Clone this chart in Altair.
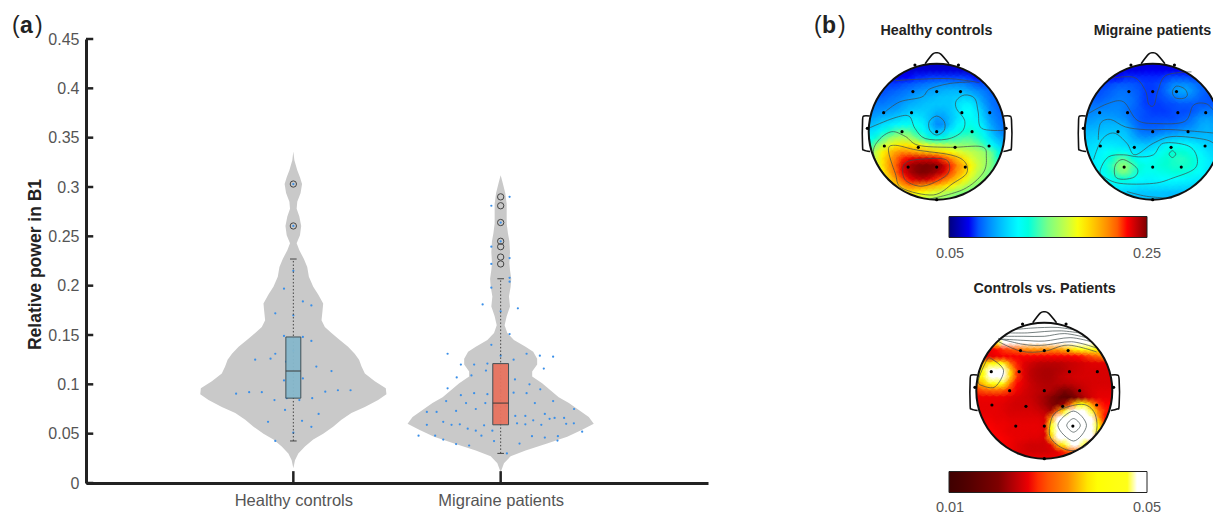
import altair as alt
import pandas as pd

FONT = "Liberation Sans"
DARK = "#222222"
TXT = "#555555"

# ---- violin outlines: value, half width (x units)
HC_Y = [.336,.327,.317,.310,.303,.294,.285,.278,.270,.2605,.251,.243,.236,.227,.219,.209,.199,.191,.182,.175,.165,.158,.152,.145,.138,.131,.125,.118,.111,.103,.096,.090,.084,.077,.071,.064,.057,.050,.044,.037,.030,.023,.015]
HC_W = [0,.005,.019,.032,.042,.035,.019,.016,.029,.038,.032,.016,.029,.051,.067,.075,.096,.120,.144,.141,.136,.152,.184,.224,.264,.296,.317,.329,.345,.393,.446,.449,.409,.345,.280,.232,.192,.144,.096,.056,.024,.008,0]
MP_Y = [.312,.304,.294,.283,.273,.263,.253,.245,.234,.223,.216,.207,.199,.189,.179,.169,.160,.152,.145,.138,.133,.126,.120,.113,.108,.101,.094,.087,.081,.074,.067,.060,.054,.047,.040,.033,.027,.020,.011]
MP_W = [0,.010,.022,.029,.029,.029,.035,.042,.045,.042,.045,.051,.048,.040,.045,.029,.019,.032,.064,.120,.157,.176,.176,.152,.152,.200,.240,.280,.329,.377,.425,.449,.393,.321,.224,.120,.048,.016,0]

# ---- scatter points: offset from the group's centre, value
HC_PX = [0,0,0,-.045,.046,.087,-.087,0,-.045,.046,.087,0,-.087,-.184,-.110,-.035,.111,.184,-.045,.046,-.276,-.213,-.152,.276,.215,.154,.091,.029,-.091,-.032,-.040,.122,-.122,.042,.087,0,-.087]
HC_PY = [.303,.2605,.215,.197,.184,.180,.172,.170,.149,.148,.144,.134,.131,.125,.126,.123,.118,.1135,.104,.106,.0905,.092,.092,.094,.094,.0925,.086,.084,.084,.086,.074,.070,.062,.063,.057,.051,.0426]
MP_PX = [.043,-.045,0,0,-.045,.043,-.045,.043,.043,-.045,-.087,.083,0,.043,-.045,-.256,0,.125,.189,.253,.0625,-.064,-.128,-.192,.208,-.071,-.141,-.212,0,.069,.139,-.256,.191,0,-.128,-.064,.0625,.125,-.192,.253,-.167,-.263,-.074,.165,-.024,.024,.354,-.120,-.215,-.309,-.356,.213,.0705,.119,.26,.236,.306,0,.157,-.277,-.356,-.237,-.197,-.08,0,.079,.119,.196,.316,.353,-.159,-.120,-.04,.393,-.396,-.316,-.093,.151,.213,.276,-.277,-.032,.274,.091,-.215,-.152,.03]
MP_PY = [.290,.281,.264,.245,.2395,.228,.222,.208,.204,.198,.181,.177,.174,.151,.140,.131,.129,.131,.129,.128,.125,.121,.120,.120,.116,.114,.109,.107,.106,.105,.100,.096,.095,.093,.091,.090,.0915,.091,.089,.083,.081,.083,.081,.081,.078,.078,.075,.075,.073,.072,.072,.070,.068,.068,.066,.065,.066,.063,.0635,.062,.059,.059,.0595,.0585,.0605,.0605,.0595,.059,.060,.0605,.055,.053,.053,.052,.048,.048,.048,.0475,.046,.0475,.044,.0425,.043,.040,.0395,.038,.030]

# ---- box plots: centre, half width, q1, median, q3, low whisker, high whisker
BOX_CENTER = [1, 2]
BOX_HALF = [.036, .038]
BOX_Q1 = [.086, .059]
BOX_MED = [.1135, .081]
BOX_Q3 = [.148, .121]
BOX_LO = [.0426, .030]
BOX_HI = [.227, .207]
BOX_FILL = ["#86b8cc", "#e8735f"]
HC_OUT = [.303, .2605]
MP_OUT = [.290, .281, .264, .245, .2395, .229, .222]

Y_TICKS = [0, .05, .1, .15, .2, .25, .3, .35, .4, .45]
X_TICKS = [1, 2]
X_NAMES = ["Healthy controls", "Migraine patients"]

# ---- scalp maps: rows from top (+1) to bottom (-1), columns left (-1) to right (+1), step 0.1
H1 = [
[5,5,5,5,5,5,5,6,6,6,6,6,6,6,6,5,5,5,5,5,5],
[6,6,6,6,6,7,7,8,8,8,8,8,8,8,7,7,6,6,6,6,6],
[9,9,9,9,10,10,11,12,12,13,13,13,13,13,13,12,11,10,9,9,9],
[12,12,12,13,13,14,15,16,17,18,19,20,20,20,19,17,15,14,13,12,12],
[14,14,14,15,16,17,18,20,21,22,23,24,25,25,24,22,20,18,16,15,14],
[16,16,16,17,18,19,21,23,24,25,26,27,27,28,29,28,24,20,17,16,15],
[17,18,18,19,20,22,24,25,26,27,27,27,27,30,33,33,28,22,18,16,15],
[19,20,21,22,23,25,27,28,28,27,25,25,27,30,35,35,31,25,19,17,15],
[22,23,25,26,28,30,31,32,30,26,22,22,26,30,34,36,33,27,21,18,16],
[25,27,30,32,34,36,37,36,33,27,20,21,27,33,36,38,36,30,23,19,17],
[30,32,37,42,46,48,47,42,36,30,26,28,33,37,40,42,39,33,26,21,18],
[35,40,46,53,56,57,55,50,44,40,38,40,43,44,46,46,43,38,30,25,22],
[40,50,58,62,66,68,68,66,63,60,58,57,55,53,52,51,49,44,36,30,25],
[45,58,66,72,77,79,78,76,74,72,70,68,66,63,60,58,56,53,48,40,30],
[48,60,68,76,82,88,90,92,92,92,90,86,80,74,68,62,58,55,50,42,34],
[50,60,68,77,84,92,96,98,99,99,98,94,88,80,74,66,60,55,50,44,38],
[50,58,66,75,83,90,95,98,99,98,96,92,86,78,72,64,58,53,48,44,40],
[50,55,60,70,78,85,90,93,94,92,88,84,78,72,66,60,55,50,48,44,40],
[50,54,58,62,70,76,80,80,78,76,73,70,66,62,58,54,50,48,47,44,40],
[50,53,56,59,62,64,68,66,65,63,61,58,55,52,50,48,46,46,45,43,40],
[50,52,54,56,58,58,58,58,57,55,54,52,50,48,46,45,44,43,42,40,40],
]
H2 = [
[8,8,8,8,8,8,8,8,8,8,8,8,8,8,8,8,8,8,8,8,8],
[9,9,9,9,9,9,9,9,9,10,10,10,10,10,10,10,10,10,9,9,9],
[11,11,11,11,11,11,12,12,12,12,12,12,13,14,14,14,13,12,12,11,11],
[13,13,13,13,14,15,15,15,14,13,13,14,16,19,20,20,18,16,14,13,13],
[14,14,14,15,16,17,17,16,15,13,13,14,17,21,23,23,20,17,15,14,14],
[15,15,15,16,17,18,18,17,15,13,13,14,15,17,19,19,18,16,15,14,14],
[17,17,17,18,19,19,18,17,15,13,13,13,14,14,15,15,15,15,15,15,15],
[19,19,20,20,20,20,18,16,15,14,13,13,13,14,14,14,15,17,18,18,18],
[21,21,22,22,22,21,20,17,15,14,14,14,14,14,15,16,18,21,22,21,20],
[23,23,24,25,25,25,23,19,16,15,15,15,16,16,17,18,20,23,24,23,21],
[25,26,26,27,27,27,26,22,18,17,17,18,19,20,21,22,23,24,25,24,22],
[27,28,29,29,29,29,28,25,22,21,22,24,26,27,28,28,27,26,26,25,24],
[29,30,31,32,32,31,30,28,28,27,28,31,34,36,36,35,33,31,29,27,26],
[30,31,33,35,37,38,36,33,31,31,33,36,39,41,41,40,37,34,31,29,28],
[30,32,34,37,41,46,46,40,36,35,37,39,41,42,43,42,40,36,33,30,29],
[30,32,34,38,44,50,52,46,40,38,38,40,41,42,42,42,40,36,33,31,30],
[30,32,34,37,42,48,50,44,39,37,37,38,39,40,40,39,37,35,32,30,30],
[30,31,33,35,37,40,40,37,35,34,34,35,35,35,35,34,33,32,30,29,28],
[30,31,31,32,33,33,33,32,31,31,31,31,31,31,30,30,29,28,28,27,27],
[29,29,29,29,29,29,28,28,27,27,27,27,26,26,26,26,26,26,26,26,26],
[26,26,26,26,26,26,26,26,26,26,26,26,26,26,26,26,26,26,26,26,26],
]
H3 = [
[99,99,99,99,99,99,99,99,99,99,99,99,99,99,99,99,99,99,99,99,99],
[99,99,99,99,99,99,99,99,99,99,99,99,99,99,99,99,99,99,99,99,99],
[99,99,99,99,99,99,99,99,99,99,99,99,99,99,99,99,99,99,99,99,99],
[50,60,70,75,90,99,99,99,99,99,99,99,99,99,99,99,99,90,80,70,60],
[40,40,40,42,45,48,52,58,60,60,60,60,60,64,68,74,82,80,70,60,50],
[38,38,38,40,41,41,41,41,41,41,41,41,41,41,41,42,44,48,54,60,60],
[60,65,75,85,80,55,43,38,36,34,33,33,33,34,35,36,37,38,38,38,38],
[70,80,92,99,92,68,45,38,34,32,31,31,32,33,35,36,37,37,37,37,37],
[70,80,92,99,92,68,45,38,34,32,31,31,33,35,36,37,37,37,37,37,37],
[60,65,78,85,75,55,42,38,35,33,32,32,33,33,34,35,36,37,37,37,37],
[45,50,52,54,50,44,40,37,35,34,33,32,28,24,27,32,35,37,38,38,38],
[40,40,40,40,40,38,37,36,35,33,30,26,20,13,18,27,33,37,39,39,39],
[39,39,39,39,38,37,36,36,36,34,30,26,22,30,55,78,78,60,45,42,42],
[39,39,39,39,38,37,37,37,37,36,34,30,55,88,99,99,99,85,55,44,42],
[40,40,40,39,39,38,38,38,38,38,37,60,95,99,99,99,99,99,62,42,42],
[41,41,41,40,40,39,39,39,39,39,38,82,99,99,99,99,99,99,72,44,42],
[42,42,42,41,40,39,39,39,39,39,38,85,99,99,99,99,99,99,70,44,42],
[42,42,42,42,41,40,39,39,38,38,37,65,95,99,99,99,99,90,50,42,42],
[42,42,42,42,41,40,38,37,36,36,36,38,65,88,99,97,80,50,42,42,42],
[42,42,42,42,41,40,38,37,36,36,36,37,39,45,55,55,45,42,42,42,42],
[40,40,40,40,40,40,40,40,40,40,40,40,40,40,40,40,40,40,40,40,40],
]

ELECTRODES = [(-.35,.59),(0,.59),(.35,.59),(-.78,.28),(-.37,.28),(.37,.28),(.78,.28),(-.51,0),(0,0),(.52,0),(-.77,-.21),(-.27,-.23),(.27,-.23),(.77,-.21),(-.42,-.52),(0,-.52),(.42,-.52),(-.32,.98),(.32,.98),(-1.02,.05),(1.02,.05),(0,-1.0)]
NOSE = [(-.17,1.0),(-.06,1.14),(0,1.16),(.06,1.14),(.18,1.0)]
EAR_L = [(-.985,.23),(-1.07,.23),(-1.09,.17),(-1.09,-.22),(-1.07,-.27),(-.98,-.29)]
EAR_R = [(.985,.23),(1.07,.23),(1.10,.17),(1.10,-.22),(1.07,-.27),(.98,-.29)]

H1_OPEN = [
[(-.61,.75),(-.29,.77),(.2,.78),(.63,.72)],
[(-.76,.29),(-.54,.44),(-.22,.51),(-.1,.63),(.2,.71),(.49,.73)],
[(-.98,.06),(-.63,.2),(-.41,.23),(-.32,.05),(-.17,-.1),(.15,-.11),(.37,0),(.41,.17),(.29,.34),(.29,.46),(.41,.54),(.56,.49),(.61,.29),(.66,.05),(.98,.02)],
[(-.56,-.83),(-.78,-.61),(-.93,-.32),(-.85,-.12),(-.66,0),(-.46,-.07),(-.27,-.2),(.2,-.23),(.66,-.22),(.73,-.37),(.68,-.61),(.39,-.85),(-.1,-.99)],
]
H1_CLOSED = [
[(0,.23),(.11,.15),(.11,.02),(0,-.05),(-.1,.02),(-.11,.15)],
[(-.71,-.27),(-.61,-.2),(-.29,-.27),(.2,-.34),(.41,-.44),(.44,-.61),(.24,-.76),(-.05,-.93),(-.51,-.83),(-.61,-.61)],
[(-.46,-.46),(-.29,-.41),(.1,-.4),(.19,-.51),(.12,-.66),(-.2,-.8),(-.44,-.73),(-.5,-.59)],
]
H2_OPEN = [
[(-.65,.78),(-.28,.80),(-.11,.61),(-.06,.41),(.02,.39),(.08,.61),(.2,.83),(.57,.88)],
[(-.94,.27),(-.67,.41),(-.43,.44),(-.23,.17),(.06,.12),(.47,.15),(.6,.39),(.79,.41),(.91,.29)],
[(-.87,-.41),(-.75,-.12),(-.57,-.02),(-.38,-.17),(-.26,-.34),(.01,-.17),(.3,-.07),(.79,-.12),(.94,-.22)],
[(-.8,-.12),(-.77,.12),(-.62,.18),(-.4,.07),(-.1,.03),(.3,.03),(.9,-.02)],
[(-.38,-.88),(-.09,-.95),(.28,-.98)],
]
H2_CLOSED = [
[(.29,.59),(.35,.67),(.47,.63),(.51,.54),(.45,.49),(.33,.5)],
[(-.77,-.56),(-.65,-.37),(-.43,-.34),(-.21,-.37),(.01,-.34),(.156,-.17),(.5,-.2),(.64,-.34),(.62,-.54),(.3,-.68),(.01,-.76),(-.48,-.76),(-.72,-.66)],
[(-.55,-.49),(-.43,-.41),(-.23,-.54),(-.26,-.66),(-.43,-.7),(-.55,-.66)],
[(.24,-.33),(.29,-.28),(.34,-.33),(.29,-.38)],
]
H3_OPEN = [
[(-.67,.72),(-.34,.58),(0,.58),(.35,.67),(.77,.57)],
[(-.68,.77),(-.3,.68),(0,.67),(.4,.72),(.76,.63)],
[(-.64,.76),(-.3,.74),(0,.73),(.38,.78),(.69,.72)],
[(-.6,.8),(-.3,.8),(0,.8),(.3,.84),(.62,.78)],
[(-.53,.85),(-.25,.85),(0,.87),(.25,.88),(.52,.85)],
[(-.43,.9),(-.2,.92),(0,.93),(.2,.93),(.42,.9)],
]
H3_CLOSED = [
[(-.97,.15),(-.85,.44),(-.78,.47),(-.6,.3),(-.72,.06),(-.9,.07)],
[(.08,-.53),(.18,-.31),(.55,-.2),(.74,-.33),(.76,-.62),(.57,-.84),(.33,-.87),(.11,-.72)],
[(.2,-.51),(.43,-.3),(.62,-.51),(.43,-.74)],
[(.33,-.51),(.43,-.41),(.53,-.51),(.43,-.61)],
]

JET_T = [0, 11, 35, 50, 65, 89, 99]
JET_C = ["#00007f", "#0000ff", "#00ffff", "#7fff7f", "#ffff00", "#ff0000", "#7f0000"]
HOT_T = [0, 25, 42, 58, 72, 90, 99]
HOT_C = ["#000000", "#800000", "#ff0000", "#ff8000", "#ffff00", "#ffffff", "#ffffff"]
jet_scale = alt.Scale(domain=[.05 + t / 99 * .2 for t in JET_T], range=JET_C, clamp=True)
hot_scale = alt.Scale(domain=[.01 + t / 99 * .04 for t in HOT_T], range=HOT_C, clamp=True)

# ---- left panel scales (pixels inside the chart)
MX = alt.Scale(domain=[0, 3], range=[78, 700], nice=False, zero=False)
MY = alt.Scale(domain=[0, .45], range=[475, 31], nice=False, zero=False)


def xq(f, axis=None):
    return alt.X(f, type="quantitative", scale=MX, axis=axis, title=None)


def yq(f, axis=None):
    return alt.Y(f, type="quantitative", scale=MY, axis=axis, title=None)


layers = []

for c, ys, ws in [(1, HC_Y, HC_W), (2, MP_Y, MP_W)]:
    df = pd.DataFrame({"y": ys, "lo": [c - w for w in ws], "hi": [c + w for w in ws]})
    layers.append(alt.Chart(df).mark_area(orient="horizontal", color="#c9c9c9", opacity=1).encode(
        x=xq("lo"), x2=alt.X2("hi"), y=yq("y")))

pts = pd.DataFrame({"x": [1 + v for v in HC_PX] + [2 + v for v in MP_PX], "y": HC_PY + MP_PY})
layers.append(alt.Chart(pts).mark_circle(size=5, color="#3a8fe8", opacity=1).encode(x=xq("x"), y=yq("y")))

box = pd.DataFrame({"c": BOX_CENTER, "l": [c - h for c, h in zip(BOX_CENTER, BOX_HALF)],
                    "r": [c + h for c, h in zip(BOX_CENTER, BOX_HALF)], "q1": BOX_Q1, "med": BOX_MED, "q3": BOX_Q3,
                    "lo": BOX_LO, "hi": BOX_HI, "fill": BOX_FILL,
                    "cl": [c - .016 for c in BOX_CENTER], "cr": [c + .016 for c in BOX_CENTER]})
layers.append(alt.Chart(box).mark_rule(color="#444444", strokeWidth=1, strokeDash=[1.5, 2]).encode(x=xq("c"), y=yq("lo"), y2="hi"))
for f in ["lo", "hi"]:
    layers.append(alt.Chart(box).mark_rule(color="#444444", strokeWidth=1).encode(x=xq("cl"), x2="cr", y=yq(f)))
layers.append(alt.Chart(box).mark_rect(stroke="#3a4a50", strokeWidth=1, opacity=.95).encode(
    x=xq("l"), x2="r", y=yq("q1"), y2="q3", color=alt.Color("fill:N", scale=None)))
layers.append(alt.Chart(box).mark_rule(color="#3a3a3a", strokeWidth=1).encode(x=xq("l"), x2="r", y=yq("med")))

outl = pd.DataFrame({"x": [1] * len(HC_OUT) + [2] * len(MP_OUT), "y": HC_OUT + MP_OUT})
layers.append(alt.Chart(outl).mark_point(size=40, color="#444444", strokeWidth=1, filled=False, opacity=1).encode(x=xq("x"), y=yq("y")))

# axes with inward ticks
ytick = pd.DataFrame({"a": [0] * len(Y_TICKS), "b": [.035] * len(Y_TICKS), "y": Y_TICKS})
layers.append(alt.Chart(ytick).mark_rule(color=DARK, strokeWidth=2.5).encode(x=xq("a"), x2="b", y=yq("y")))
xtick = pd.DataFrame({"x": X_TICKS, "a": [0, 0], "b": [.012, .012], "n": X_NAMES})
layers.append(alt.Chart(xtick).mark_rule(color=DARK, strokeWidth=2.5).encode(x=xq("x"), y=yq("a"), y2="b"))
labexpr = "datum.value == 1 ? '%s' : '%s'" % (X_NAMES[0], X_NAMES[1])
layers.append(alt.Chart(xtick).mark_point(opacity=0).encode(
    x=xq("x", alt.Axis(orient="bottom", offset=-30, values=X_TICKS, labelExpr=labexpr, ticks=False, grid=False,
                       domainWidth=3, domainColor=DARK, labelFontSize=16.5, labelColor=TXT, labelFont=FONT, labelPadding=9)),
    y=yq("a", alt.Axis(orient="left", offset=-78, values=Y_TICKS, format="~g", ticks=False, grid=False,
                       domainWidth=3, domainColor=DARK, labelFontSize=16, labelColor=TXT, labelFont=FONT, labelPadding=7,
                       title="Relative power in B1", titleFont=FONT, titleFontSize=17.5, titleFontWeight="bold",
                       titleColor=DARK, titleX=-42, titleY=256))))


def grid_frame(field, lo, hi):
    rows = []
    n = len(field)
    for i, row in enumerate(field):
        yc = 1 - 2 * i / (n - 1)
        for j, v in enumerate(row):
            xc = -1 + 2 * j / (n - 1)
            if xc * xc + yc * yc < 1.17:
                rows.append({"x": xc, "y": yc, "x0": xc - .056, "x1": xc + .056, "y0": yc - .056, "y1": yc + .056, "v": lo + v / 99 * (hi - lo)})
    return pd.DataFrame(rows)


def lines_frame(curves):
    rows = []
    for k, cv in enumerate(curves):
        for o, (x, y) in enumerate(cv):
            rows.append({"id": k, "o": o, "x": x, "y": y})
    return pd.DataFrame(rows)


def head(field, lo, hi, scale, cx, cy, opened, closed, legend, line_col="#3c4a4a"):
    R = 68
    sx = alt.Scale(domain=[-1, 1], range=[cx - 8 - R, cx - 8 + R], nice=False, zero=False)
    sy = alt.Scale(domain=[-1, 1], range=[cy - 8 + R, cy - 8 - R], nice=False, zero=False)
    X = lambda f: alt.X(f, type="quantitative", scale=sx, axis=None, title=None)
    Y = lambda f: alt.Y(f, type="quantitative", scale=sy, axis=None, title=None)
    grid = grid_frame(field, lo, hi)
    out = [alt.Chart(grid).mark_rect(opacity=1).encode(
        x=X("x0"), x2="x1", y=Y("y0"), y2="y1", color=alt.Color("v:Q", scale=scale, legend=legend))]
    # soft overlapping discs of the same cells, painted in both orders, take the edge off the grid
    out.append(alt.Chart(grid).mark_circle(size=190, opacity=.3).encode(
        x=X("x"), y=Y("y"), color=alt.Color("v:Q", scale=scale, legend=None)))
    out.append(alt.Chart(grid.iloc[::-1]).mark_circle(size=120, opacity=.3).encode(
        x=X("x"), y=Y("y"), color=alt.Color("v:Q", scale=scale, legend=None)))
    centre = pd.DataFrame({"x": [0], "y": [0]})
    out.append(alt.Chart(centre).mark_arc(radius=84, radius2=R, theta=0, theta2=6.2832, color="white", opacity=1).encode(x=X("x"), y=Y("y")))
    out.append(alt.Chart(lines_frame(opened)).mark_line(color=line_col, strokeWidth=.7, interpolate="cardinal").encode(
        x=X("x"), y=Y("y"), detail="id:N", order="o:Q"))
    out.append(alt.Chart(lines_frame(closed)).mark_line(color=line_col, strokeWidth=.7, interpolate="cardinal-closed").encode(
        x=X("x"), y=Y("y"), detail="id:N", order="o:Q"))
    out.append(alt.Chart(centre).mark_arc(radius=R + 1, radius2=R - 1, theta=0, theta2=6.2832, color="#111111", opacity=1).encode(x=X("x"), y=Y("y")))
    out.append(alt.Chart(lines_frame([NOSE, EAR_L, EAR_R])).mark_line(color="#111111", strokeWidth=1.6, interpolate="cardinal").encode(
        x=X("x"), y=Y("y"), detail="id:N", order="o:Q"))
    el = pd.DataFrame(ELECTRODES, columns=["x", "y"])
    out.append(alt.Chart(el).mark_circle(size=10, color="#000000", opacity=1).encode(x=X("x"), y=Y("y")))
    return out


def bar_legend(x, y):
    return alt.Legend(orient="none", legendX=x, legendY=y, direction="horizontal", title=None, gradientLength=198,
                      gradientThickness=21, labelOpacity=0, labelFontSize=1, gradientStrokeColor="#222222", gradientStrokeWidth=1, padding=0)


layers += head(H1, .05, .25, jet_scale, 936.7, 131.7, H1_OPEN, H1_CLOSED, bar_legend(941, 208.5))
layers += head(H2, .05, .25, jet_scale, 1152.7, 131.7, H2_OPEN, H2_CLOSED, None)
layers += head(H3, .01, .05, hot_scale, 1044.3, 390.7, H3_OPEN, H3_CLOSED, bar_legend(941, 463.5))

# ---- colour bar end labels
C_TEXT = ["0.05", "0.25", "0.01", "0.05"]
C_X = [942, 1139, 942, 1139]
C_Y = [246, 246, 499.5, 499.5]
for t, x, y in zip(C_TEXT, C_X, C_Y):
    layers.append(alt.Chart(pd.DataFrame({"t": [t]})).mark_text(font=FONT, fontSize=14.5, color=TXT, align="center", baseline="middle").encode(
        x=alt.value(x), y=alt.value(y), text="t:N"))

# ---- panel letters and map titles
T_TEXT = ["Healthy controls", "Migraine patients", "Controls vs. Patients"]
T_X = [928.5, 1144.5, 1036.5]
T_Y = [23, 23, 281]
for t, x, y in zip(T_TEXT, T_X, T_Y):
    layers.append(alt.Chart(pd.DataFrame({"t": [t]})).mark_text(font=FONT, fontSize=14.3, fontWeight="bold", color=DARK, align="center", baseline="middle").encode(
        x=alt.value(x), y=alt.value(y), text="t:N"))
for t, x, w in [("(", 4, "normal"), ("a", 12, "bold"), (")", 27, "normal"), ("(", 806, "normal"), ("b", 814, "bold"), (")", 830, "normal")]:
    layers.append(alt.Chart(pd.DataFrame({"t": [t]})).mark_text(font=FONT, fontSize=23, fontWeight=w, color=DARK, align="left", baseline="middle").encode(
        x=alt.value(x), y=alt.value(18), text="t:N"))

chart = alt.layer(*layers).resolve_scale(x="independent", y="independent", color="independent").properties(
    width=1205, height=505, padding=0, autosize=alt.AutoSizeParams(type="none")
).configure_view(stroke=None)

chart.save("out.html", embed_options={"renderer": "svg", "actions": False})
